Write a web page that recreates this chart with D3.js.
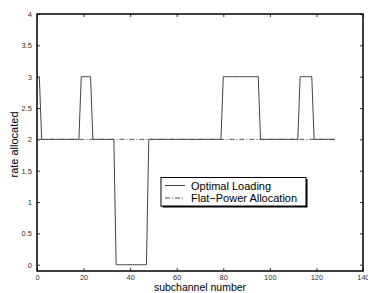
<!DOCTYPE html>
<html>
<head>
<meta charset="utf-8">
<script src="https://cdn.jsdelivr.net/npm/d3@7"></script>
<style>
  body { margin: 0; background: #fff; }
  text { font-family: "Liberation Sans", Arial, sans-serif; }
</style>
</head>
<body>
<svg id="chart" width="368" height="293"></svg>
<script>
// subchannel numbers 1..128 and their rates
const subchannels = d3.range(1, 129);
const optimalRates = subchannels.map(k => {
  if (k === 1) return 3;
  if (k >= 19 && k <= 23) return 3;
  if (k >= 34 && k <= 47) return 0;
  if (k >= 80 && k <= 95) return 3;
  if (k >= 113 && k <= 118) return 3;
  return 2;
});
const flatRates = subchannels.map(() => 2);
const xTicks = [0, 20, 40, 60, 80, 100, 120, 140];
const yTicks = [0, 0.5, 1, 1.5, 2, 2.5, 3, 3.5, 4];
const legendLabels = ["Optimal Loading", "Flat\u2212Power Allocation"];

const svg = d3.select("#chart");
const margin = { top: 14, right: 5, bottom: 22, left: 37 };
const width = 368 - margin.left - margin.right;
const height = 293 - margin.top - margin.bottom;

const g = svg.append("g")
  .attr("transform", "translate(" + margin.left + "," + margin.top + ")");

const x = d3.scaleLinear().domain([0, 140]).range([0, width]);
const y = d3.scaleLinear().domain([-0.1, 4]).range([height, 0]);

// axes, ticks pointing inward
function styleAxis(sel) {
  sel.select(".domain").remove();
  sel.selectAll("line").attr("stroke", "#000").attr("stroke-width", 0.8);
  sel.selectAll("text").attr("font-size", "7.5px").attr("fill", "#333");
}
g.append("g").attr("transform", "translate(0," + height + ")")
  .call(d3.axisBottom(x).tickValues(xTicks).tickSize(-3).tickPadding(3.5).tickFormat(d3.format("d")))
  .call(styleAxis);
g.append("g").attr("transform", "translate(0,0)")
  .call(d3.axisTop(x).tickValues(xTicks).tickSize(-3).tickFormat(""))
  .call(styleAxis);
g.append("g")
  .call(d3.axisLeft(y).tickValues(yTicks).tickSize(-3).tickPadding(5).tickFormat(d => d))
  .call(styleAxis);
g.append("g").attr("transform", "translate(" + width + ",0)")
  .call(d3.axisRight(y).tickValues(yTicks).tickSize(-3).tickFormat(""))
  .call(styleAxis);

// lines
const line = d3.line().x((d, i) => x(subchannels[i])).y(d => y(d));
g.append("path").datum(flatRates)
  .attr("fill", "none").attr("stroke", "#222").attr("stroke-width", 0.8)
  .attr("stroke-dasharray", "5,2,1,2")
  .attr("d", line);
g.append("path").datum(optimalRates)
  .attr("fill", "none").attr("stroke", "#444").attr("stroke-width", 1)
  .attr("d", line);

// frame
g.append("rect").attr("width", width).attr("height", height)
  .attr("fill", "none").attr("stroke", "#000").attr("stroke-width", 1.5);

// axis labels
svg.append("text")
  .attr("x", margin.left + width / 2).attr("y", 291)
  .attr("text-anchor", "middle").attr("font-size", "10.5px")
  .text("subchannel number");
svg.append("text")
  .attr("transform", "translate(18," + (margin.top + height / 2 + 2) + ") rotate(-90)")
  .attr("text-anchor", "middle").attr("font-size", "11px")
  .text("rate allocated");

// legend
const legend = svg.append("g").attr("transform", "translate(161,177.5)");
legend.append("rect").attr("x", 1.5).attr("y", 1.5).attr("width", 145).attr("height", 28.5).attr("fill", "#000");
legend.append("rect").attr("width", 145).attr("height", 28.5)
  .attr("fill", "#fff").attr("stroke", "#000").attr("stroke-width", 1);
const dashes = [null, "5,2,1,2"];
legendLabels.forEach((lab, i) => {
  const ly = 8 + i * 12.5;
  legend.append("line").attr("x1", 4).attr("x2", 24).attr("y1", ly).attr("y2", ly)
    .attr("stroke", i === 0 ? "#444" : "#222").attr("stroke-width", i === 0 ? 1 : 0.8)
    .attr("stroke-dasharray", dashes[i]);
  legend.append("text").attr("x", 30).attr("y", ly + 4)
    .attr("font-size", "11px").text(lab);
});
</script>
</body>
</html>
